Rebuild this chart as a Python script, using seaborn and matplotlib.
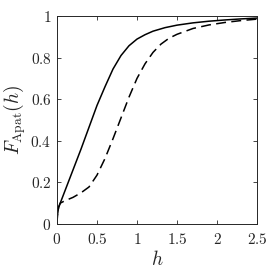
import matplotlib
matplotlib.use("Agg")
import matplotlib.pyplot as plt
from matplotlib.ticker import FuncFormatter
import seaborn as sns

# values
h_solid = [0, 0.005, 0.02, 0.05, 0.1, 0.2, 0.3, 0.4, 0.5, 0.6, 0.7, 0.8, 0.9,
           1.0, 1.1, 1.2, 1.35, 1.5, 1.7, 1.9, 2.1, 2.3, 2.5]
F_solid = [0, 0.04, 0.08, 0.11, 0.16, 0.26, 0.36, 0.465, 0.57, 0.66, 0.745, 0.81, 0.857,
           0.889, 0.91, 0.927, 0.944, 0.956, 0.967, 0.975, 0.981, 0.986, 0.99]

h_dash = [0, 0.005, 0.02, 0.04, 0.1, 0.2, 0.3, 0.4, 0.5, 0.6, 0.7, 0.8, 0.9,
          1.0, 1.1, 1.2, 1.3, 1.4, 1.5, 1.7, 1.9, 2.1, 2.3, 2.5]
F_dash = [0, 0.04, 0.08, 0.1, 0.112, 0.128, 0.15, 0.178, 0.235, 0.315, 0.41, 0.51, 0.61,
          0.70, 0.77, 0.825, 0.865, 0.893, 0.912, 0.94, 0.957, 0.969, 0.978, 0.985]

x_ticks = [0, 0.5, 1, 1.5, 2, 2.5]
y_ticks = [0, 0.2, 0.4, 0.6, 0.8, 1]

sns.set_style("ticks")
plt.rcParams["mathtext.fontset"] = "cm"
plt.rcParams["font.family"] = ["DejaVu Serif"]

fig = plt.figure(figsize=(2.73, 2.73), dpi=100)
ax = fig.add_axes([57 / 273, 49 / 273, 200 / 273, 208 / 273])

sns.lineplot(x=h_solid, y=F_solid, color="k", lw=1.1, ax=ax)
sns.lineplot(x=h_dash, y=F_dash, color="k", lw=1.1, ax=ax)
ax.lines[1].set_dashes([6.5, 3.5])

ax.set_xlim(0, 2.5)
ax.set_ylim(0, 1)
ax.set_xticks(x_ticks)
ax.set_yticks(y_ticks)
fmt = FuncFormatter(lambda v, p: "$%g$" % v)
ax.xaxis.set_major_formatter(fmt)
ax.yaxis.set_major_formatter(fmt)
ax.tick_params(direction="in", length=3, width=0.6, top=True, right=True,
               labelsize=11, color="#262626")
ax.tick_params(axis="x", pad=6)
ax.tick_params(axis="y", pad=4)
for s in ax.spines.values():
    s.set_visible(True)
    s.set_color("#262626")
    s.set_linewidth(0.7)

ax.set_xlabel("$h$", fontsize=14, labelpad=2)
ax.set_ylabel(r"$F_{\mathrm{Apat}}(h)$", fontsize=14, labelpad=2)

fig.savefig("out.png", dpi=100)
